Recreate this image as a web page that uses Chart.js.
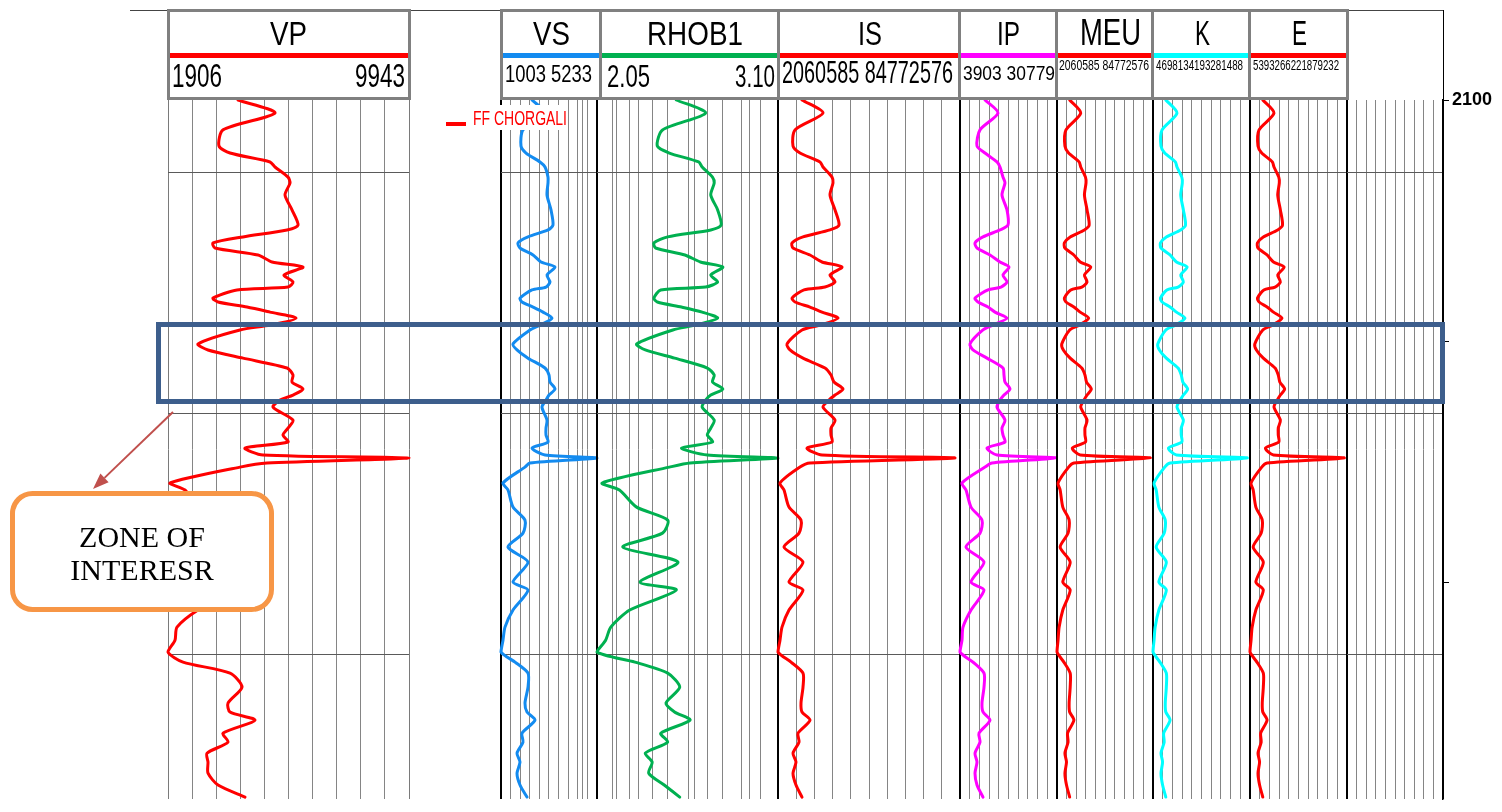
<!DOCTYPE html>
<html>
<head>
<meta charset="utf-8">
<title>Well log – FF Chorgali</title>
<script src="https://cdn.jsdelivr.net/npm/chart.js@4.4.1/dist/chart.umd.min.js"></script>
<style>
  html, body { margin:0; padding:0; background:#fff; }
  body { position:relative; width:1502px; height:812px; overflow:hidden; }
  canvas.track { position:absolute; z-index:1; }
  .frame { position:absolute; z-index:2; }
  .hdr { position:absolute; top:9px; height:91px; box-sizing:border-box; border:3px solid #808080; background:#fff; z-index:2; }
  .bar { position:absolute; left:0; right:0; top:41px; height:5px; }
  .txt { position:absolute; white-space:nowrap; transform-origin:0 0; z-index:4;
         font-family:"Liberation Sans Narrow","Liberation Sans",Arial,sans-serif; color:#000; }
  .zone { position:absolute; box-sizing:border-box; border:5px solid #3D5E8C; z-index:3; }
  .legendBox { position:absolute; background:#fff; z-index:3; }
  svg.overlay { position:absolute; left:0; top:0; z-index:5; pointer-events:none; }
</style>
</head>
<body>
<script>
// ---- depth samples (m) shared by every curve ----
const depth = [
  2100.00, 2100.54, 2101.24, 2101.91, 2102.20, 2102.57, 2102.78, 2103.20, 2103.44, 2103.94,
  2104.56, 2105.19, 2105.39, 2105.68, 2105.93, 2106.14, 2106.43, 2106.72, 2106.93, 2107.26,
  2107.55, 2107.76, 2107.88, 2108.22, 2108.38, 2108.59, 2108.80, 2109.05, 2109.34, 2109.54,
  2110.12, 2110.37, 2110.71, 2111.12, 2111.41, 2111.70, 2111.99, 2112.24, 2112.45, 2112.74,
  2113.28, 2113.61, 2113.90, 2114.19, 2114.44, 2114.73, 2114.85, 2115.06, 2115.23, 2115.89,
  2116.18, 2116.89, 2117.43, 2117.97, 2118.55, 2119.17, 2120.00, 2120.33, 2121.16, 2121.87,
  2122.41, 2122.90, 2123.32, 2123.78, 2124.36, 2125.02, 2125.39, 2125.73, 2126.27, 2126.64,
  2127.10, 2127.47, 2127.93, 2128.42, 2128.92
];

// ---- log curves ----
const vpValues = [
  4241, 5474, 3740, 3607, 3974, 5308, 5474, 5908, 5975, 5808,
  6041, 6242, 5875, 4407, 3407, 3473, 4908, 5374, 6408, 5775,
  6075, 5908, 4207, 3407, 3574, 4541, 5308, 6175, 5308, 4307,
  2906, 3240, 4407, 5875, 6075, 6041, 6408, 6075, 5641, 5408,
  6075, 5908, 5741, 5908, 4474, 5074, 9943, 5208, 4307, 1973,
  2473, 2906, 3907, 3740, 2473, 4140, 2906, 4140, 2906, 2206,
  2139, 1906, 2406, 3974, 4374, 3907, 3974, 4807, 3740, 3907,
  3207, 3240, 3240, 3574, 4474
];
const vsValues = [
  2369, 2942, 1972, 1884, 2105, 2721, 2942, 3074, 3074, 3030,
  3206, 3294, 3074, 2193, 1752, 1840, 2413, 2765, 3382, 3030,
  3162, 2986, 2369, 1840, 1928, 2413, 2854, 3250, 2721, 2281,
  1532, 1708, 2193, 2942, 3118, 3162, 3382, 3118, 2986, 2809,
  3030, 2986, 2986, 3074, 2369, 2942, 5233, 2281, 2060, 1091,
  1311, 1532, 2060, 1972, 1311, 2193, 1532, 2193, 1532, 1179,
  1091, 1003, 1620, 2193, 2193, 2060, 2149, 2501, 1928, 1972,
  1708, 1840, 1708, 1840, 2149
];
const rhobValues = [
  2.51, 2.68, 2.43, 2.40, 2.47, 2.64, 2.66, 2.72, 2.73, 2.71,
  2.75, 2.77, 2.71, 2.46, 2.38, 2.39, 2.56, 2.65, 2.78, 2.71,
  2.75, 2.68, 2.42, 2.38, 2.40, 2.54, 2.66, 2.75, 2.62, 2.49,
  2.28, 2.33, 2.50, 2.69, 2.73, 2.72, 2.78, 2.71, 2.68, 2.66,
  2.73, 2.71, 2.69, 2.72, 2.54, 2.69, 3.10, 2.59, 2.47, 2.08,
  2.18, 2.28, 2.46, 2.43, 2.20, 2.52, 2.30, 2.51, 2.24, 2.13,
  2.10, 2.05, 2.27, 2.46, 2.53, 2.45, 2.50, 2.59, 2.42, 2.46,
  2.33, 2.37, 2.35, 2.44, 2.53
];
const isValues = [
  12968000, 22511000, 9786000, 8878000, 12059000, 21148000, 22511000, 26601000, 27056000, 25693000,
  27965000, 29783000, 25693000, 13422000, 8423000, 8878000, 16603000, 22057000, 31146000, 25693000,
  27965000, 23420000, 13877000, 8423000, 9786000, 16603000, 22057000, 29328000, 21148000, 12968000,
  6151000, 7514000, 13422000, 23420000, 26147000, 27510000, 31601000, 27965000, 25238000, 22511000,
  27965000, 26147000, 26147000, 26601000, 15240000, 22057000, 82500000, 16603000, 12059000, 2970000,
  4787000, 7060000, 12513000, 11604000, 4787000, 13422000, 7060000, 13422000, 7060000, 3878000,
  2970000, 2061000, 7969000, 13422000, 13422000, 12513000, 12968000, 16603000, 11150000, 11604000,
  8878000, 10241000, 8878000, 10241000, 12968000
];
const ipValues = [
  10828, 14429, 9443, 8612, 10828, 14152, 14983, 15814, 16368, 15537,
  16922, 17199, 14983, 10274, 8058, 8612, 12213, 14983, 17476, 15814,
  16922, 15260, 11659, 8058, 8889, 11659, 13598, 16922, 13044, 10274,
  6673, 7504, 11382, 15814, 16091, 16368, 17753, 16091, 14983, 14152,
  16368, 15537, 15814, 16368, 11382, 14152, 30500, 12767, 10828, 4457,
  5565, 6950, 9997, 9443, 5565, 10551, 6950, 10551, 6950, 4734,
  4457, 3903, 7504, 10551, 10551, 9997, 10274, 12213, 9166, 9443,
  8058, 8612, 8058, 8612, 10274
];
const meuValues = [
  12968000, 22511000, 9786000, 8878000, 12059000, 21148000, 22511000, 26601000, 27056000, 25693000,
  27965000, 29783000, 25693000, 13422000, 8423000, 8878000, 16603000, 22057000, 31146000, 25693000,
  27965000, 23420000, 13877000, 8423000, 9786000, 16603000, 22057000, 29328000, 21148000, 12968000,
  6151000, 7514000, 13422000, 23420000, 26147000, 27510000, 31601000, 27965000, 25238000, 22511000,
  27965000, 26147000, 26147000, 26601000, 15240000, 22057000, 82500000, 16603000, 12059000, 2970000,
  4787000, 7060000, 12513000, 11604000, 4787000, 13422000, 7060000, 13422000, 7060000, 3878000,
  2970000, 2061000, 7969000, 13422000, 13422000, 12513000, 12968000, 16603000, 11150000, 11604000,
  8878000, 10241000, 8878000, 10241000, 12968000
];
const kValues = [
  29566000, 51326000, 22313000, 20241000, 27494000, 48217000, 51326000, 60651000, 61688000, 58579000,
  63760000, 67905000, 58579000, 30602000, 19205000, 20241000, 37856000, 50290000, 71013000, 58579000,
  63760000, 53398000, 31639000, 19205000, 22313000, 37856000, 50290000, 66868000, 48217000, 29566000,
  14024000, 17132000, 30602000, 53398000, 59615000, 62724000, 72049000, 63760000, 57543000, 51326000,
  63760000, 59615000, 59615000, 60651000, 34747000, 50290000, 188101000, 37856000, 27494000, 6770000,
  10915000, 16096000, 28530000, 26458000, 10915000, 30602000, 16096000, 30602000, 16096000, 8843000,
  6770000, 4698000, 18168000, 30602000, 30602000, 28530000, 29566000, 37856000, 25422000, 26458000,
  20241000, 23349000, 20241000, 23349000, 29566000
];
const eValues = [
  33941000, 58920000, 25614000, 23236000, 31562000, 55352000, 58920000, 69625000, 70815000, 67246000,
  73194000, 77952000, 67246000, 35130000, 22046000, 23236000, 43457000, 57731000, 81520000, 67246000,
  73194000, 61299000, 36320000, 22046000, 25614000, 43457000, 57731000, 76762000, 55352000, 33941000,
  16099000, 19667000, 35130000, 61299000, 68436000, 72004000, 82710000, 73194000, 66057000, 58920000,
  73194000, 68436000, 68436000, 69625000, 39888000, 57731000, 215932000, 43457000, 31562000, 7772000,
  12530000, 18478000, 32751000, 30372000, 12530000, 35130000, 18478000, 35130000, 18478000, 10151000,
  7772000, 5393000, 20857000, 35130000, 35130000, 32751000, 33941000, 43457000, 29183000, 30372000,
  23236000, 26804000, 23236000, 26804000, 33941000
];

// ---- track names, scale ranges, header labels ----
const trackNames = ['VP', 'VS', 'RHOB1', 'IS', 'IP', 'MEU', 'K', 'E'];
const rangeMin = [1906, 1003, 2.05, 2060585, 3903, 2060585, 4698134, 5393266];
const rangeMax = [9943, 5233, 3.10, 84772576, 30779, 84772576, 193281488, 221879232];
const rangeMinLabels = ['1906', '1003', '2.05', '2060585', '3903', '2060585', '4698134', '5393266'];
const rangeMaxLabels = ['9943', '5233', '3.10', '84772576', '30779', '84772576', '193281488', '221879232'];
const seriesValues = [vpValues, vsValues, rhobValues, isValues, ipValues, meuValues, kValues, eValues];
const seriesColors = ['#FF0000', '#138BF0', '#00B050', '#FF0000', '#FF00FF', '#FF0000', '#00FFFF', '#FF0000'];

// ---- depth axis ----
const depthMin = 2100, depthMax = 2129;
const depthTicks = [2100, 2110, 2120];
const depthLabels = ['2100', '', ''];
const depthGrid = [2103, 2113, 2123];
const zoneDepths = [2109.2, 2112.6];
const formationName = 'FF CHORGALI';

// ---- page layout (pixels) ----
const PLOT_TOP = 100, PLOT_H = 699;
const FONT = '"Liberation Sans Narrow","Liberation Sans",Arial,sans-serif';
const lin10 = [0, 0.1, 0.2, 0.3, 0.4, 0.5, 0.6, 0.7, 0.8, 0.9, 1];
const vsGrid = [0, 0.104, 0.198, 0.292, 0.396, 0.49, 0.594, 0.698, 0.792, 0.854, 0.906, 1];
const rhobGrid = [0, 0.083, 0.105, 0.182, 0.232, 0.304, 0.392, 0.503, 0.541, 0.613, 0.696, 0.801, 0.845, 0.901, 1];

const layout = [
  { left: 168,  right: 409,  box: [167, 411],  grid: lin10,   edge: '#7a7a7a', edgeW: 1,
    title: { cx: 288.5, w: 37, size: 34 },
    ranges: [{ text: 0, x: 172, align: 'left', w: 50, base: 87, size: 33 },
             { text: 1, x: 405, align: 'right', w: 50, base: 87, size: 33 }] },
  { left: 501,  right: 597,  box: [500, 603],  grid: vsGrid,  edge: '#000', edgeW: 2,
    title: { cx: 551, w: 37, size: 34 },
    ranges: [{ text: ' ', x: 505, align: 'left', w: 87, base: 82, size: 24 }] },
  { left: 597,  right: 778,  box: [599, 781],  grid: rhobGrid, edge: '#000', edgeW: 2,
    title: { cx: 695, w: 96, size: 34 },
    ranges: [{ text: 0, x: 607, align: 'left', w: 43, base: 87, size: 31 },
             { text: 1, x: 775, align: 'right', w: 40, base: 87, size: 31 }] },
  { left: 778,  right: 960,  box: [777, 962],  grid: lin10,   edge: '#000', edgeW: 2,
    title: { cx: 869.5, w: 24, size: 34 },
    ranges: [{ text: ' ', x: 782, align: 'left', w: 171, base: 83, size: 31 }] },
  { left: 960,  right: 1057, box: [958, 1059], grid: lin10,   edge: '#000', edgeW: 2,
    title: { cx: 1008.5, w: 23, size: 34 },
    ranges: [{ text: ' ', x: 963, align: 'left', w: 92, base: 80, size: 21 }] },
  { left: 1057, right: 1153, box: [1055, 1156], grid: lin10,  edge: '#000', edgeW: 2,
    title: { cx: 1110, w: 61, size: 37 },
    ranges: [{ text: '  ', x: 1059, align: 'left', w: 90, base: 70, size: 14 }] },
  { left: 1153, right: 1250, box: [1151, 1252], grid: lin10,  edge: '#000', edgeW: 2,
    title: { cx: 1202, w: 15, size: 35 },
    ranges: [{ text: '', x: 1156, align: 'left', w: 87, base: 70, size: 14 }] },
  { left: 1250, right: 1347, box: [1248, 1349], grid: lin10,  edge: '#000', edgeW: 2,
    title: { cx: 1299, w: 15, size: 35 },
    ranges: [{ text: '', x: 1253, align: 'left', w: 86, base: 70, size: 14 }] }
];
const spare = { left: 1347, right: 1443 };

function depthToY(d) { return PLOT_TOP + (d - depthMin) / (depthMax - depthMin) * PLOT_H; }

// text placed by baseline, squeezed horizontally to the wanted width
function addText(str, o) {
  const el = document.createElement('div');
  el.className = 'txt';
  el.textContent = str;
  el.style.fontSize = o.size + 'px';
  el.style.lineHeight = o.size + 'px';
  if (o.family) el.style.fontFamily = o.family;
  if (o.color) el.style.color = o.color;
  document.body.appendChild(el);
  const natural = el.getBoundingClientRect().width;
  const w = o.w || natural;
  let left = o.x;
  if (o.align === 'right') left = o.x - w;
  if (o.align === 'center') left = o.x - w / 2;
  el.style.left = left + 'px';
  el.style.top = (o.base - 0.8465 * o.size) + 'px';
  if (o.w) el.style.transform = 'scaleX(' + (o.w / natural) + ')';
  return el;
}

function addDiv(cls, css) {
  const d = document.createElement('div');
  d.className = cls;
  Object.assign(d.style, css);
  document.body.appendChild(d);
  return d;
}

Chart.defaults.font.family = FONT;

function buildTrack(t, values, color, min, max, withAxis) {
  const pad = 3;
  const padTop = withAxis ? 18 : pad;
  const padBottom = withAxis ? 18 : pad;
  const axisW = withAxis ? 56 : 0;
  const cv = document.createElement('canvas');
  cv.className = 'track';
  const w = (t.right - t.left) + pad + (withAxis ? axisW : pad);
  const h = PLOT_H + padTop + padBottom;
  cv.width = w; cv.height = h;
  cv.style.width = w + 'px'; cv.style.height = h + 'px';
  cv.style.left = (t.left - pad) + 'px';
  cv.style.top = (PLOT_TOP - padTop) + 'px';
  document.body.appendChild(cv);

  const last = t.grid.length - 1;
  const scales = {
    x: {
      type: 'linear', position: 'top', min: min, max: max,
      afterBuildTicks: s => { s.ticks = t.grid.map(f => ({ value: min + f * (max - min) })); },
      afterFit: s => { s.height = 0; },
      ticks: { display: false },
      grid: {
        drawTicks: false,
        color: c => (c.index === 0 || c.index === last) ? t.edge : '#858585',
        lineWidth: c => (c.index === 0 || c.index === last) ? t.edgeW : 1
      },
      border: { display: false }
    },
    y: {
      type: 'linear', position: 'left', reverse: true, min: depthMin, max: depthMax,
      afterBuildTicks: s => { s.ticks = depthGrid.map(v => ({ value: v })); },
      afterFit: s => { s.width = 0; },
      ticks: { display: false },
      grid: { drawTicks: false, color: '#5a5a5a', lineWidth: 1 },
      border: { display: false }
    }
  };
  if (withAxis) {
    scales.y2 = {
      type: 'linear', position: 'right', reverse: true, min: depthMin, max: depthMax,
      afterBuildTicks: s => { s.ticks = depthTicks.map(v => ({ value: v })); },
      afterFit: s => { s.width = axisW; },
      ticks: {
        autoSkip: false, maxRotation: 0, padding: 3, color: '#000',
        font: { family: FONT, size: 18, weight: 'bold' },
        callback: (v, i) => depthLabels[i]
      },
      grid: { drawOnChartArea: false, drawTicks: true, tickLength: 6, color: '#000', lineWidth: 1 },
      border: { display: true, color: '#000', width: 1.5 }
    };
  }
  const datasets = values ? [{
    data: depth.map((d, i) => ({ x: values[i], y: d })),
    showLine: true, borderColor: color, borderWidth: 3, pointRadius: 0,
    tension: 0.25, clip: false, borderJoinStyle: 'round', borderCapStyle: 'round'
  }] : [];
  new Chart(cv, {
    type: 'scatter',
    data: { datasets },
    options: {
      responsive: false, animation: false, devicePixelRatio: 1,
      layout: { padding: { left: pad, right: withAxis ? 0 : pad, top: padTop, bottom: padBottom } },
      plugins: { legend: { display: false }, tooltip: { enabled: false } },
      events: [],
      scales
    }
  });
}

// ---- log tracks ----
layout.forEach((t, i) => buildTrack(t, seriesValues[i], seriesColors[i], rangeMin[i], rangeMax[i], false));
buildTrack({ left: spare.left, right: spare.right, grid: lin10, edge: '#000', edgeW: 2 }, null, null, 0, 1, true);

// ---- outer frame ----
addDiv('frame', { left: '130px', top: '10px', width: (spare.right - 130 + 1) + 'px', height: '1px', background: '#444' });
addDiv('frame', { left: (spare.right) + 'px', top: '10px', width: '1px', height: (PLOT_TOP - 10) + 'px', background: '#000' });

// ---- headers ----
layout.forEach((t, i) => {
  const box = addDiv('hdr', { left: t.box[0] + 'px', width: (t.box[1] - t.box[0]) + 'px' });
  const bar = document.createElement('div');
  bar.className = 'bar';
  bar.style.background = seriesColors[i];
  box.appendChild(bar);
  addText(trackNames[i], { x: t.title.cx, align: 'center', w: t.title.w, base: 45, size: t.title.size });
  t.ranges.forEach(r => {
    let str;
    if (typeof r.text === 'number') str = r.text === 0 ? rangeMinLabels[i] : rangeMaxLabels[i];
    else str = rangeMinLabels[i] + r.text + rangeMaxLabels[i];
    addText(str, { x: r.x, align: r.align, w: r.w, base: r.base, size: r.size });
  });
});

// ---- formation legend ----
addDiv('legendBox', { left: '440px', top: '105px', width: '128px', height: '25px' });
addDiv('legendBox', { left: '446px', top: '122px', width: '20px', height: '4px', background: '#FF0000', zIndex: 4 });
addText(formationName, { x: 473, align: 'left', w: 94, base: 125, size: 20, color: '#FF0000' });

// ---- zone of interest ----
const zTop = depthToY(zoneDepths[0]), zBot = depthToY(zoneDepths[1]);
addDiv('zone', { left: '156px', width: (1445 - 156) + 'px', top: zTop + 'px', height: (zBot - zTop) + 'px' });

// ---- callout ----
const NS = 'http://www.w3.org/2000/svg';
const svg = document.createElementNS(NS, 'svg');
svg.setAttribute('class', 'overlay');
svg.setAttribute('width', '1502'); svg.setAttribute('height', '812');
svg.innerHTML =
  '<line x1="173" y1="412" x2="104.5" y2="477.9" stroke="#C0504D" stroke-width="2"/>' +
  '<polygon points="93,489 108.6,482.2 100.4,473.6" fill="#C0504D"/>' +
  '<rect x="12.5" y="493.5" width="259" height="116" rx="20" ry="20" fill="#fff" stroke="#F79646" stroke-width="5"/>' +
  '<text x="142" y="547" text-anchor="middle" font-family="Liberation Serif, Times New Roman, serif" font-size="30" fill="#000">ZONE OF</text>' +
  '<text x="142" y="580" text-anchor="middle" font-family="Liberation Serif, Times New Roman, serif" font-size="30" fill="#000">INTERESR</text>';
document.body.appendChild(svg);
</script>
</body>
</html>
